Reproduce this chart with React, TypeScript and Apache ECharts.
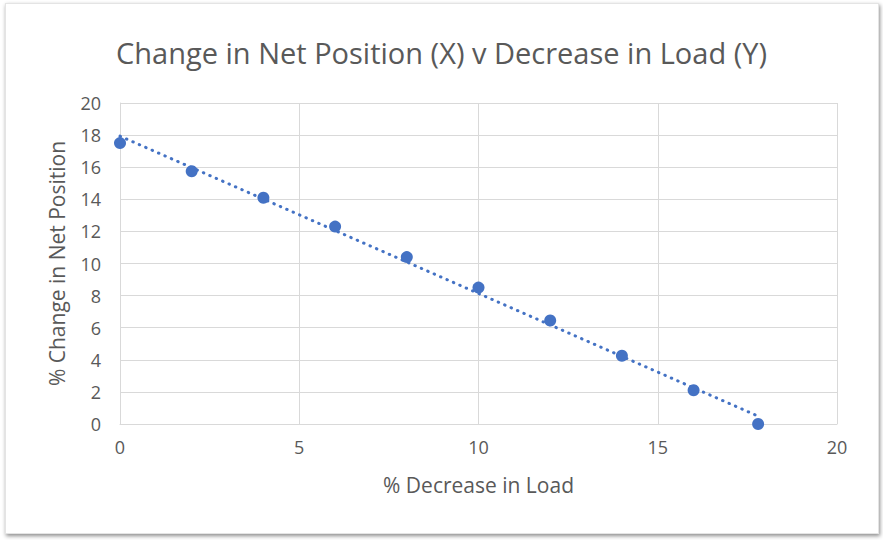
import React, { useEffect, useRef } from "react";
import * as echarts from "echarts";

const titleText = "Change in Net Position (X) v Decrease in Load (Y)";
const xAxisName = "% Decrease in Load";
const yAxisName = "% Change in Net Position";
const decreaseInLoad = [0, 2, 4, 6, 8, 10, 12, 14, 16, 17.8];
const changeInNetPosition = [17.5, 15.75, 14.1, 12.3, 10.4, 8.5, 6.45, 4.25, 2.1, 0];

function linearFit(xs: number[], ys: number[]) {
  const n = xs.length;
  const mx = xs.reduce((a, b) => a + b, 0) / n;
  const my = ys.reduce((a, b) => a + b, 0) / n;
  let sxy = 0, sxx = 0;
  for (let i = 0; i < n; i++) {
    sxy += (xs[i] - mx) * (ys[i] - my);
    sxx += (xs[i] - mx) * (xs[i] - mx);
  }
  const slope = sxy / sxx;
  return { slope, intercept: my - slope * mx };
}

export default function App() {
  const ref = useRef<HTMLDivElement>(null);
  useEffect(() => {
    if (!ref.current) return;
    const chart = echarts.init(ref.current, null, { renderer: "svg" });
    const fit = linearFit(decreaseInLoad, changeInNetPosition);
    const xMin = Math.min(...decreaseInLoad);
    const xMax = Math.max(...decreaseInLoad);
    const trend = [
      [xMin, fit.intercept + fit.slope * xMin],
      [xMax, fit.intercept + fit.slope * xMax],
    ];
    const font = "'Open Sans', sans-serif";
    const textColor = "#595959";
    const gridColor = "#d9d9d9";
    chart.setOption({
      animation: false,
      backgroundColor: "transparent",
      title: {
        text: titleText,
        left: "center",
        top: 33,
        textStyle: { fontFamily: font, fontSize: 29, fontWeight: "normal", color: textColor },
      },
      grid: { left: 120, right: 46, top: 103, bottom: 116 },
      xAxis: {
        type: "value",
        min: 0,
        max: 20,
        interval: 5,
        name: xAxisName,
        nameLocation: "middle",
        nameGap: 50,
        nameTextStyle: { fontFamily: font, fontSize: 21, color: textColor },
        axisLine: { show: true, lineStyle: { color: gridColor, width: 1 } },
        axisTick: { show: false },
        axisLabel: { fontFamily: font, fontSize: 18, color: textColor, margin: 14 },
        splitLine: { show: true, lineStyle: { color: gridColor, width: 1 } },
      },
      yAxis: {
        type: "value",
        min: 0,
        max: 20,
        interval: 2,
        name: yAxisName,
        nameLocation: "middle",
        nameGap: 53,
        nameRotate: 90,
        nameTextStyle: { fontFamily: font, fontSize: 21, color: textColor },
        axisLine: { show: true, lineStyle: { color: gridColor, width: 1 } },
        axisTick: { show: false },
        axisLabel: { fontFamily: font, fontSize: 18, color: textColor, margin: 19 },
        splitLine: { show: true, lineStyle: { color: gridColor, width: 1 } },
      },
      series: [
        {
          type: "line",
          data: trend,
          symbol: "none",
          lineStyle: { color: "#4472c4", width: 3, type: [0.5, 6.5], cap: "round" },
          z: 2,
        },
        {
          type: "scatter",
          data: decreaseInLoad.map((x, i) => [x, changeInNetPosition[i]]),
          symbol: "circle",
          symbolSize: 12,
          itemStyle: { color: "#4472c4", opacity: 1 },
          z: 3,
        },
      ],
    });
    return () => chart.dispose();
  }, []);
  return (
    <div style={{ position: "fixed", left: 0, top: 0, width: 883, height: 540, background: "#ffffff" }}>
      <div
        style={{
          position: "absolute",
          left: 5,
          top: 3,
          width: 872,
          height: 529,
          border: "1px solid #e4e4e4",
          boxShadow: "1px 2px 4px rgba(0,0,0,0.45)",
          background: "#ffffff",
        }}
      />
      <div ref={ref} style={{ position: "absolute", left: 0, top: 0, width: 883, height: 540 }} />
    </div>
  );
}
